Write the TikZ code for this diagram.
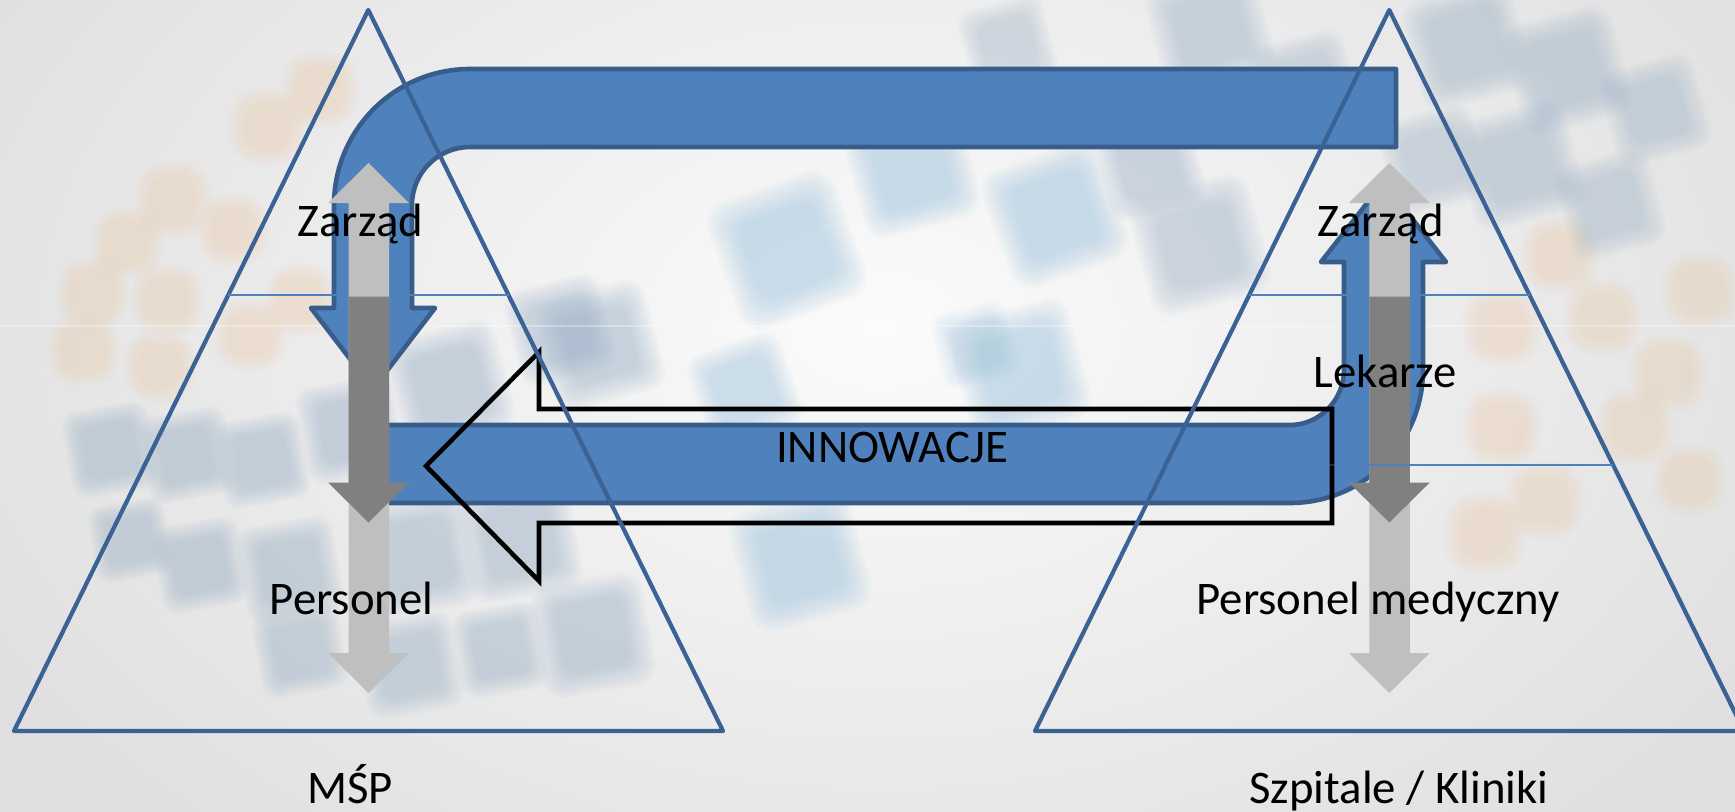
\documentclass[tikz,border=0pt]{standalone}
\usepackage{fontspec}
\setmainfont{Carlito}
\definecolor{bandfill}{RGB}{79,129,189}
\definecolor{bandline}{RGB}{56,93,138}
\definecolor{triline}{RGB}{59,98,148}
\definecolor{levelline}{RGB}{79,129,189}
\definecolor{grayL}{RGB}{191,191,191}
\definecolor{grayD}{RGB}{128,128,128}
\definecolor{bgout}{RGB}{223,223,223}
\definecolor{bgin}{RGB}{251,251,251}
\definecolor{blobA}{RGB}{150,175,200}
\definecolor{blobB}{RGB}{150,192,222}
\definecolor{blobC}{RGB}{235,165,90}
% soft (blurred) rotated square:
% x, y, half size, angle, colour, layer opacity, corner rounding (fraction of size)
\newcommand\softsq[7]{%
  \foreach \k in {0,...,9}{%
    \pgfmathsetmacro\hh{#3*(1.3-0.06*\k)}%
    \pgfmathsetmacro\rr{0.01*#7*\hh}%
    \fill[#5, opacity=#6, rounded corners=\rr cm, rotate around={#4:(#1,#2)}]
      (#1-\hh,#2-\hh) rectangle (#1+\hh,#2+\hh);
  }}
\tikzset{
  band/.style={fill=bandfill, draw=bandline, line width=1.3pt, line join=round},
  tri/.style={draw=triline, line width=1.2pt, line join=round},
  level/.style={draw=levelline, line width=0.5pt},
  outline/.style={draw=black, line width=1.3pt, line join=miter},
  lbl/.style={anchor=base, inner sep=0pt, font=\fontsize{13.3}{15}\selectfont}
}
\begin{document}
\begin{tikzpicture}[x=0.01cm, y=-0.01cm]
\useasboundingbox (0,0) rectangle (1735,812);
\clip (0,0) rectangle (1735,812);

% background
\fill[bgout] (0,0) rectangle (1735,812);
\shade[inner color=bgin, outer color=bgout] (880,330) ellipse [x radius=1050, y radius=700];

% blurred globe squares: centre
\softsq{787}{250}{52}{20}{blobB}{0.06}{0.35}
\softsq{912}{170}{46}{15}{blobB}{0.06}{0.35}
\softsq{1055}{215}{48}{20}{blobB}{0.06}{0.35}
\softsq{1020}{370}{48}{15}{blobB}{0.06}{0.35}
\softsq{800}{560}{48}{15}{blobB}{0.06}{0.35}
\softsq{745}{390}{38}{20}{blobB}{0.05}{0.35}
\softsq{1008}{45}{34}{15}{blobA}{0.04}{0.35}
\softsq{600}{345}{44}{15}{blobA}{0.055}{0.35}
\softsq{593}{635}{44}{10}{blobA}{0.055}{0.35}
\softsq{975}{345}{30}{15}{blobB}{0.03}{0.35}
% right top
\softsq{1200}{245}{48}{15}{blobA}{0.05}{0.35}
\softsq{1150}{165}{38}{15}{blobA}{0.05}{0.35}
\softsq{1210}{30}{44}{15}{blobA}{0.05}{0.35}
\softsq{1305}{85}{38}{15}{blobA}{0.045}{0.35}
\softsq{1467}{45}{44}{15}{blobA}{0.05}{0.35}
\softsq{1567}{70}{44}{15}{blobA}{0.05}{0.35}
\softsq{1655}{110}{38}{15}{blobA}{0.045}{0.35}
\softsq{1433}{160}{38}{15}{blobA}{0.045}{0.35}
\softsq{1520}{165}{44}{15}{blobA}{0.05}{0.35}
\softsq{1610}{205}{38}{15}{blobA}{0.045}{0.35}
% left bottom
\softsq{110}{450}{34}{10}{blobA}{0.055}{0.35}
\softsq{187}{455}{34}{10}{blobA}{0.055}{0.35}
\softsq{262}{460}{34}{10}{blobA}{0.055}{0.35}
\softsq{350}{430}{38}{10}{blobA}{0.055}{0.35}
\softsq{450}{385}{44}{15}{blobA}{0.055}{0.35}
\softsq{560}{330}{38}{15}{blobA}{0.05}{0.35}
\softsq{130}{540}{30}{10}{blobA}{0.05}{0.35}
\softsq{200}{565}{34}{10}{blobA}{0.055}{0.35}
\softsq{290}{570}{38}{10}{blobA}{0.055}{0.35}
\softsq{417}{555}{44}{10}{blobA}{0.055}{0.35}
\softsq{520}{540}{44}{10}{blobA}{0.055}{0.35}
\softsq{300}{650}{34}{10}{blobA}{0.05}{0.35}
\softsq{410}{665}{38}{10}{blobA}{0.05}{0.35}
\softsq{500}{650}{34}{10}{blobA}{0.05}{0.35}
% orange dots, left
\softsq{320}{90}{30}{0}{blobC}{0.015}{0.8}
\softsq{267}{127}{30}{0}{blobC}{0.015}{0.8}
\softsq{173}{200}{30}{0}{blobC}{0.015}{0.8}
\softsq{233}{230}{28}{0}{blobC}{0.015}{0.8}
\softsq{127}{243}{28}{0}{blobC}{0.015}{0.8}
\softsq{93}{293}{28}{0}{blobC}{0.015}{0.8}
\softsq{167}{300}{28}{0}{blobC}{0.015}{0.8}
\softsq{300}{300}{28}{0}{blobC}{0.015}{0.8}
\softsq{83}{350}{28}{0}{blobC}{0.015}{0.8}
\softsq{250}{335}{28}{0}{blobC}{0.015}{0.8}
\softsq{160}{367}{28}{0}{blobC}{0.015}{0.8}
% orange dots, right
\softsq{1502}{427}{30}{0}{blobC}{0.015}{0.8}
\softsq{1485}{533}{32}{0}{blobC}{0.015}{0.8}
\softsq{1545}{500}{30}{0}{blobC}{0.015}{0.8}
\softsq{1635}{427}{30}{0}{blobC}{0.015}{0.8}
\softsq{1668}{373}{30}{0}{blobC}{0.015}{0.8}
\softsq{1602}{317}{30}{0}{blobC}{0.015}{0.8}
\softsq{1502}{327}{30}{0}{blobC}{0.015}{0.8}
\softsq{1700}{290}{30}{0}{blobC}{0.015}{0.8}
\softsq{1560}{255}{30}{0}{blobC}{0.015}{0.8}
\softsq{1690}{480}{28}{0}{blobC}{0.015}{0.8}

% faint seam across the background
\draw[white, opacity=0.3, line width=0.3pt] (0,326) -- (1735,326);

% upper bent band: from the clinic side back down into the SME pyramid
\path[band] (1396,69) -- (470,69)
  .. controls (394.9,69) and (334,129.9) .. (334,205)
  -- (334,308) -- (311,308) -- (373,389) -- (435,308) -- (412,308)
  -- (412,205)
  .. controls (412,173) and (438,147) .. (470,147)
  -- (1396,147) -- cycle;

% lower bent band: from the SME side up into the clinic pyramid
\path[band] (360,425) -- (1290,425)
  .. controls (1319.8,425) and (1344,399.8) .. (1344,370)
  -- (1344,262) -- (1321,262) -- (1383.5,182) -- (1446,262) -- (1423,262)
  -- (1423,370)
  .. controls (1423,443.5) and (1363.5,503) .. (1290,503)
  -- (360,503) -- cycle;

% hollow arrow of innovations
\path[outline] (426,466) -- (539,352) -- (539,409) -- (1332,409)
  -- (1332,523) -- (539,523) -- (539,581) -- cycle;

% pyramids with their level lines
\draw[tri] (14,731) -- (368.3,10) -- (723,731) -- cycle;
\draw[tri] (1035,731) -- (1389.3,10) -- (1744,731) -- cycle;
\draw[level] (228.2,295) -- (508.5,295);
\draw[level] (1249.2,295) -- (1529.5,295);
\draw[level, opacity=0.35] (1165.7,465) -- (1368,465);

% grey up/down arrows inside both pyramids
\foreach \dx in {0,1020.8}{
  \begin{scope}[shift={(\dx,0)}]
    \fill[grayL] (348.5,203) -- (328,203) -- (368.5,163) -- (409,203) -- (389,203)
      -- (389,653) -- (409,653) -- (368.5,693) -- (328,653) -- (348.5,653) -- cycle;
    \fill[grayD] (348.5,296.5) -- (389,296.5) -- (389,482.5) -- (409,482.5)
      -- (368.5,522.5) -- (328,482.5) -- (348.5,482.5) -- cycle;
  \end{scope}
}
\draw[level] (1368,465) -- (1613.1,465);

% labels
\node[lbl] (zarzadL) at (360.5,236.7) {Zarząd};
\node[lbl] (zarzadR) at (1380.8,236.7) {Zarząd};
\node[lbl] (lekarze) at (1385,387) {Lekarze};
\node[lbl] (innow) at (892,462) {INNOWACJE};
\node[lbl] (persL) at (351.7,614) {Personel};
\node[lbl] (persR) at (1378,614) {Personel medyczny};
\node[lbl] (msp) at (350,803) {MŚP};
\node[lbl] (szpit) at (1399,803) {Szpitale / Kliniki};
\end{tikzpicture}
\end{document}
